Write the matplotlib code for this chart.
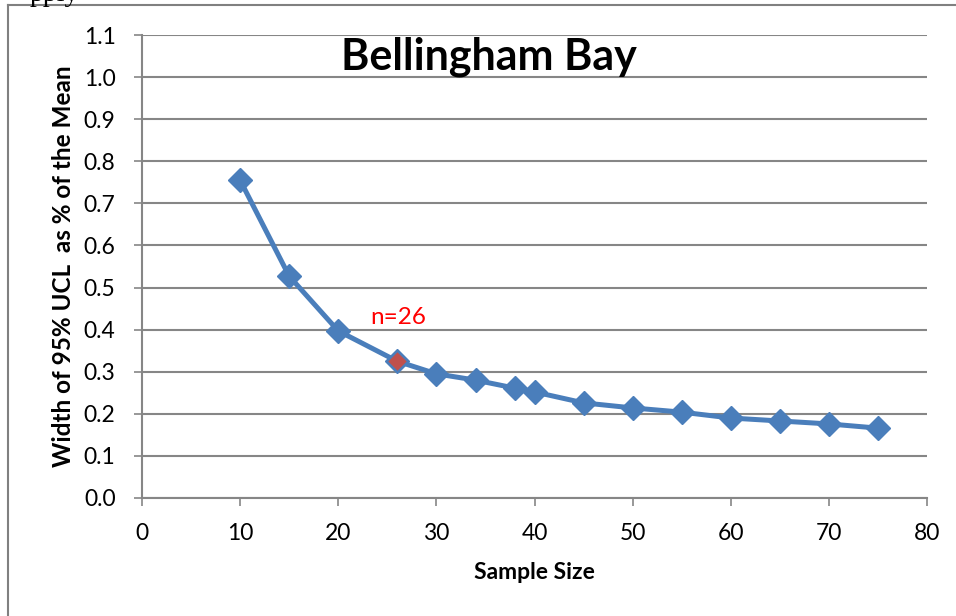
import numpy as np
import matplotlib
matplotlib.use('Agg')
from matplotlib import pyplot as plt
from matplotlib.lines import Line2D

# datos
sample_size = [10, 15, 20, 26, 30, 34, 38, 40, 45, 50, 55, 60, 65, 70, 75]
ucl_width = [0.755, 0.527, 0.397, 0.325, 0.295, 0.280, 0.261, 0.252, 0.226,
             0.214, 0.204, 0.190, 0.183, 0.176, 0.166]
hl_index = 3  # n=26
x_ticks = [0, 10, 20, 30, 40, 50, 60, 70, 80]
y_ticks = [0.0, 0.1, 0.2, 0.3, 0.4, 0.5, 0.6, 0.7, 0.8, 0.9, 1.0, 1.1]

plt.rcParams['font.family'] = ['Lato', 'DejaVu Sans']

fig = plt.figure(figsize=(9.56, 6.16), dpi=100)
ax = fig.add_axes([142/956, 1-498/616, (927-142)/956, (498-35)/616])

blue = '#4A7EBB'
ax.plot(sample_size, ucl_width, color=blue, lw=3.6, marker='D', ms=12,
        mfc=blue, mec=blue, zorder=3)
ax.plot(sample_size[hl_index], ucl_width[hl_index], marker='D', ms=10.5,
        color='#C0504D', mec=blue, mew=0.8, zorder=4)
ax.text(26.1, 0.428, 'n=26', color='red', fontsize=17.5, ha='center', va='center')

ax.set_xlim(0, 80)
ax.set_ylim(0, 1.1)
ax.set_xticks(x_ticks)
ax.set_yticks(y_ticks)
ax.set_yticklabels(['%.1f' % v for v in y_ticks])
ax.yaxis.grid(True, color='#868686', lw=1.5)
ax.set_axisbelow(True)
for s in ['top', 'right']:
    ax.spines[s].set_visible(False)
for s in ['left', 'bottom']:
    ax.spines[s].set_color('#868686')
    ax.spines[s].set_linewidth(1.5)
ax.tick_params(axis='both', colors='#868686', labelcolor='black', labelsize=16.5,
               length=6, width=1.2)
ax.tick_params(axis='x', pad=12)
ax.tick_params(axis='y', pad=13)

ax.text(35.3, 1.048, 'Bellingham Bay', fontsize=31, fontweight='bold',
        ha='center', va='center')
ax.set_xlabel('Sample Size', fontsize=16.5, fontweight='bold', labelpad=13)
ax.set_ylabel('Width of 95% UCL  as % of the Mean', fontsize=17.5,
              fontweight='bold', labelpad=6)

# marco
fig.add_artist(Line2D([8/956, 1], [1-5/616, 1-5/616], color='#808080', lw=1.5))
fig.add_artist(Line2D([8/956, 8/956], [0, 1-5/616], color='#808080', lw=1.5))
fig.text(30/956, 1-1/616, 'pply', fontsize=20, family='Liberation Serif',
         va='baseline', ha='left')

fig.savefig('out.png', dpi=100)
